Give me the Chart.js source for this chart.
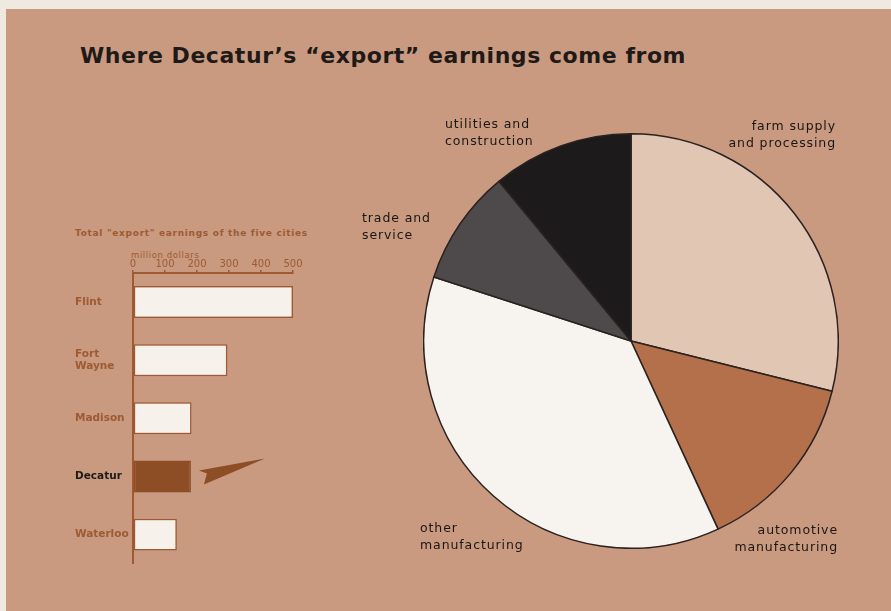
<!DOCTYPE html>
<html>
<head>
<meta charset="utf-8">
<script src="https://cdn.jsdelivr.net/npm/chart.js@4.4.1/dist/chart.umd.min.js"></script>
<style>
  html, body { margin: 0; padding: 0; }
  body { width: 891px; height: 611px; background: #efe9e1; position: relative; overflow: hidden; font-family: "DejaVu Sans", sans-serif; }
  #page { position: absolute; left: 6px; top: 9px; width: 885px; height: 602px; background: #c99a80; }
  .txt { position: absolute; white-space: nowrap; }
  #title { left: 80px; top: 43px; font-size: 22px; font-weight: bold; color: #1f1a18; letter-spacing: 0.55px; }
  #sub { left: 75px; top: 228px; font-size: 9px; font-weight: bold; color: #9d5a33; letter-spacing: 0.7px; }
  #unit { left: 131px; top: 250px; font-size: 8.5px; color: #9d5a33; letter-spacing: 0.6px; }
  .pl { font-size: 12.5px; color: #1a1614; letter-spacing: 0.9px; line-height: 17px; }
  #barWrap { position: absolute; left: 75px; top: 241px; width: 235px; height: 335px; }
  #pieWrap { position: absolute; left: 423px; top: 133px; width: 416px; height: 416px; }
</style>
</head>
<body>
<div id="page"></div>
<div class="txt" id="title">Where Decatur’s “export” earnings come from</div>
<div class="txt" id="sub">Total "export" earnings of the five cities</div>
<div class="txt" id="unit">million dollars</div>
<div id="barWrap"><canvas id="bars"></canvas></div>
<div id="pieWrap"><canvas id="pie"></canvas></div>
<div class="txt pl" style="left:445px; top:115px;">utilities and<br>construction</div>
<div class="txt pl" style="right:55px; top:117px; text-align:right;">farm supply<br>and processing</div>
<div class="txt pl" style="left:362px; top:209px;">trade and<br>service</div>
<div class="txt pl" style="left:420px; top:519px;">other<br>manufacturing</div>
<div class="txt pl" style="right:53px; top:521px; text-align:right;">automotive<br>manufacturing</div>
<script>
const cities = ['Flint', ['Fort', 'Wayne'], 'Madison', 'Decatur', 'Waterloo']
const earnings = [500, 295, 183, 181, 137]
const earningTicks = [0, 100, 200, 300, 400, 500]

const sectors = ['farm supply and processing', 'automotive manufacturing', 'other manufacturing', 'trade and service', 'utilities and construction']
const sectorShares = [28.9, 14.2, 36.9, 9.0, 11.0]
const sectorColors = ['#e2c6b4', '#b4704a', '#f7f4ef', '#4e4a4b', '#1c1a1a']

const brown = '#9d5a33'
const highlight = 3

// little pointer flag next to the Decatur bar
const pointerPlugin = {
  id: 'pointer',
  afterDatasetsDraw(chart) {
    const bar = chart.getDatasetMeta(0).data[highlight]
    if (!bar) return
    const ctx = chart.ctx
    const x = bar.x, y = bar.y
    ctx.save()
    ctx.fillStyle = '#8e4e25'
    ctx.beginPath()
    ctx.moveTo(x + 8, y - 6)
    ctx.lineTo(x + 74, y - 18)
    ctx.lineTo(x + 13, y + 8)
    ctx.lineTo(x + 16, y - 3)
    ctx.closePath()
    ctx.fill()
    ctx.restore()
  },
}

new Chart(document.getElementById('bars'), {
  type: 'bar',
  data: {
    labels: cities,
    datasets: [{
      data: earnings,
      backgroundColor: earnings.map((_, i) => (i === highlight ? '#8e4e25' : '#f6f1ea')),
      borderColor: earnings.map((_, i) => (i === highlight ? '#8e4e25' : brown)),
      borderWidth: 1.5,
      borderSkipped: false,
      barPercentage: 0.55,
      categoryPercentage: 1,
    }],
  },
  options: {
    indexAxis: 'y',
    responsive: true,
    maintainAspectRatio: false,
    animation: false,
    events: [],
    layout: { padding: { left: 0, right: 17, top: 0, bottom: 8 } },
    plugins: { legend: { display: false }, tooltip: { enabled: false } },
    scales: {
      x: {
        position: 'top',
        min: 0,
        max: 500,
        afterBuildTicks: (s) => { s.ticks = earningTicks.map((v) => ({ value: v })) },
        afterFit: (s) => { s.height = 32 },
        grid: { display: true, drawOnChartArea: false, tickLength: 3, color: brown, lineWidth: 1.5 },
        border: { display: true, color: brown, width: 2 },
        ticks: { color: brown, padding: 0, font: { family: 'DejaVu Sans', size: 10 }, maxRotation: 0 },
      },
      y: {
        afterFit: (s) => { s.width = 58 },
        grid: { display: false },
        border: { display: true, color: brown, width: 2 },
        ticks: {
          crossAlign: 'far',
          padding: 6,
          color: (c) => (c.index === highlight ? '#1f1a18' : brown),
          font: { family: 'DejaVu Sans', size: 10.5, weight: 'bold' },
        },
      },
    },
  },
  plugins: [pointerPlugin],
})

new Chart(document.getElementById('pie'), {
  type: 'pie',
  data: {
    labels: sectors,
    datasets: [{
      data: sectorShares,
      backgroundColor: sectorColors,
      borderColor: '#2a2220',
      borderWidth: 1.5,
    }],
  },
  options: {
    responsive: true,
    maintainAspectRatio: false,
    animation: false,
    events: [],
    layout: { padding: 0 },
    plugins: { legend: { display: false }, tooltip: { enabled: false } },
  },
})
</script>
</body>
</html>
